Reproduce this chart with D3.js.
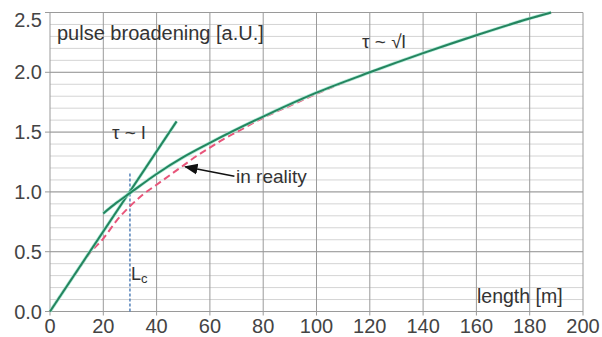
<!DOCTYPE html>
<html><head><meta charset="utf-8">
<script src="https://cdn.jsdelivr.net/npm/d3@7"></script>
<style>body{margin:0;background:#fff}svg{display:block}text{font-family:"Liberation Sans",Arial,sans-serif}</style>
</head><body><svg id="c" width="602" height="337"></svg>
<script>
const xTicks=[0,20,40,60,80,100,120,140,160,180,200];
const yTicks=[0.0,0.5,1.0,1.5,2.0,2.5];
const linearL=[0,47.5];
const linearV=[0,1.59];
const sqrtL=[20,25,30,40,50,60,80,100,120,140,160,180,188];
const sqrtV=[0.82,0.91,0.99,1.15,1.29,1.41,1.63,1.83,2.0,2.16,2.31,2.45,2.5];
const realL=[0,5,10,15,20,25,30,35,40,45,50,55,60,65,70,80,90,100,120,140,160,180,188];
const realV=[0,0.17,0.33,0.49,0.61,0.76,0.88,0.98,1.06,1.14,1.22,1.30,1.37,1.44,1.50,1.62,1.72,1.82,2.0,2.16,2.31,2.45,2.50];
const Lc=30, LcTop=1.17;

const svg=d3.select("#c");
const x=d3.scaleLinear().domain([0,200]).range([50,583]);
const y=d3.scaleLinear().domain([0,2.5]).range([311.5,12.5]);

// minor grid
const minor=d3.range(0,2.5001,0.1);
svg.append("g").selectAll("line").data(minor).join("line")
 .attr("x1",x(0)).attr("x2",x(200)).attr("y1",d=>y(d)).attr("y2",d=>y(d))
 .attr("stroke","#d4d4d4").attr("stroke-width",1);
// major grid
svg.append("g").selectAll("line").data(yTicks).join("line")
 .attr("x1",x(0)-5).attr("x2",x(200)).attr("y1",d=>y(d)).attr("y2",d=>y(d))
 .attr("stroke","#9a9a9a").attr("stroke-width",1);
svg.append("g").selectAll("line").data(xTicks).join("line")
 .attr("x1",d=>x(d)).attr("x2",d=>x(d)).attr("y1",y(0)+4).attr("y2",y(2.5))
 .attr("stroke","#9a9a9a").attr("stroke-width",1);

// tick labels
svg.append("g").selectAll("text").data(yTicks).join("text")
 .attr("x",42).attr("y",d=>Math.max(y(d)+7,27)).attr("text-anchor","end")
 .attr("font-size",20).attr("fill","#444").text(d=>d.toFixed(1));
svg.append("g").selectAll("text").data(xTicks).join("text")
 .attr("x",d=>Math.min(x(d),584)).attr("y",333).attr("text-anchor","middle")
 .attr("font-size",20).attr("fill","#444").text(d=>d);

// Lc line
svg.append("line").attr("x1",x(Lc)).attr("x2",x(Lc)).attr("y1",y(0)).attr("y2",y(LcTop))
 .attr("stroke","#3a6fb0").attr("stroke-width",1.3).attr("stroke-dasharray","3,2");

const line=d3.line().x(d=>x(d[0])).y(d=>y(d[1]));
const smooth=d3.line().x(d=>x(d[0])).y(d=>y(d[1])).curve(d3.curveMonotoneX);

// red dashed
svg.append("path").attr("d",smooth(realL.map((l,i)=>[l,realV[i]])))
 .attr("fill","none").attr("stroke","#e8557a").attr("stroke-width",2).attr("stroke-dasharray","7,4");

// green lines with glow
const greenPaths=[line(linearL.map((l,i)=>[l,linearV[i]])), smooth(sqrtL.map((l,i)=>[l,sqrtV[i]]))];
greenPaths.forEach(p=>{
 svg.append("path").attr("d",p).attr("fill","none").attr("stroke","#9fe8d0").attr("stroke-width",3.4).attr("stroke-opacity",0.8);
 svg.append("path").attr("d",p).attr("fill","none").attr("stroke","#23855f").attr("stroke-width",2);
});

// arrow
svg.append("defs").append("marker").attr("id","ah").attr("viewBox","0 0 10 10").attr("refX",9).attr("refY",5)
 .attr("markerWidth",9).attr("markerHeight",9).attr("orient","auto-start-reverse")
 .append("path").attr("d","M0,1L10,5L0,9Z").attr("fill","#111");
svg.append("line").attr("x1",x(69.2)).attr("y1",y(1.13)).attr("x2",x(50.8)).attr("y2",y(1.21))
 .attr("stroke","#111").attr("stroke-width",1.5).attr("marker-end","url(#ah)");

// texts
const t=(tx,ty,s,sz)=>svg.append("text").attr("x",tx).attr("y",ty).attr("font-size",sz||19).attr("fill","#333").text(s);
t(57,40,"pulse broadening [a.U.]",20);
t(362,48,"τ ~ √l",19);
t(112,139,"τ ~ l",19);
t(236,183,"in reality",19);
t(477,303,"length [m]",19.5);
const lc=svg.append("text").attr("x",131).attr("y",280).attr("font-size",18).attr("fill","#333");
lc.append("tspan").text("L");
lc.append("tspan").attr("font-size",13).attr("dy",3).text("c");
</script></body></html>
